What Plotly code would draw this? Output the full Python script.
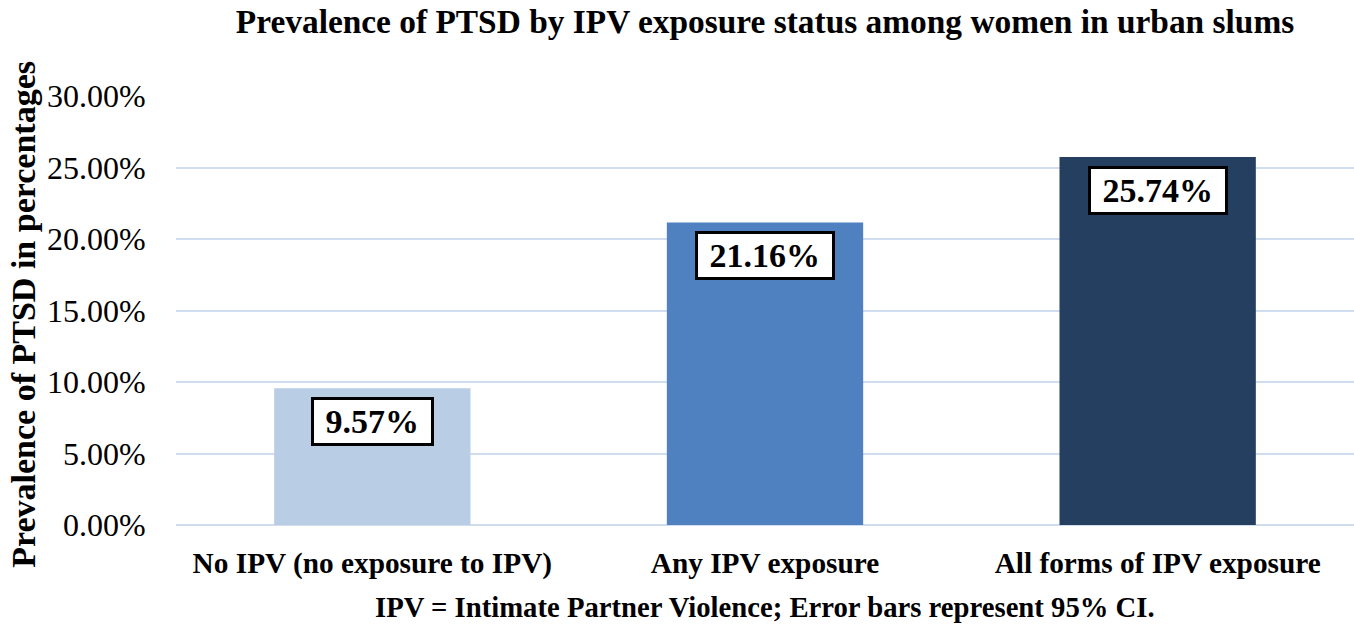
import plotly.graph_objects as go

categories = ["No IPV (no exposure to IPV)", "Any IPV exposure", "All forms of IPV exposure"]
prevalence = [0.0957, 0.2116, 0.2574]
bar_colors = ["#b9cde5", "#4f80c0", "#253f60"]
label_texts = ["9.57%", "21.16%", "25.74%"]
y_ticks = [0, 0.05, 0.10, 0.15, 0.20, 0.25, 0.30]

FONT = "Liberation Serif"
W, H = 1354, 625
ML, MR, MT, MB = 176, 0, 96, 100

fig = go.Figure()
fig.add_trace(go.Bar(
    x=categories, y=prevalence,
    marker=dict(color=bar_colors, line=dict(width=0)),
    width=0.5, hoverinfo="skip",
))

for c, v, t in zip(categories, prevalence, label_texts):
    fig.add_annotation(
        x=c, y=v, xref="x", yref="y", yanchor="top", yshift=-9,
        text="&nbsp;" + t + "&nbsp;", showarrow=False,
        font=dict(family=FONT, size=34, color="black", weight="bold"),
        bgcolor="white", bordercolor="black", borderwidth=3, borderpad=3,
    )

plot_w = W - ML - MR
fig.add_annotation(
    xref="paper", yref="paper", x=(24 - ML) / plot_w, y=0.49,
    xanchor="center", yanchor="middle", textangle=-90,
    text="Prevalence of PTSD in percentages", showarrow=False,
    font=dict(family=FONT, size=34, color="black", weight="bold"),
)
plot_h = H - MT - MB
fig.add_annotation(
    xref="paper", yref="paper", x=0.5, y=-(607 - (H - MB)) / plot_h,
    xanchor="center", yanchor="middle",
    text="IPV = Intimate Partner Violence; Error bars represent 95% CI.", showarrow=False,
    font=dict(family=FONT, size=28.7, color="black", weight="bold"),
)

fig.update_layout(
    width=W, height=H,
    margin=dict(l=ML, r=MR, t=MT, b=MB),
    paper_bgcolor="white", plot_bgcolor="white",
    showlegend=False,
    title=dict(
        text="<b>Prevalence of PTSD by IPV exposure status among women in urban slums</b>",
        xref="paper", x=0.5, xanchor="center",
        yref="container", y=1 - 21 / H, yanchor="middle",
        font=dict(family=FONT, size=33.4, color="black"),
    ),
    bargap=0.5,
)
fig.update_xaxes(
    showgrid=False, showline=False, zeroline=False,
    tickfont=dict(family=FONT, size=29.3, color="black", weight="bold"),
    ticks="outside", ticklen=0, tickcolor="white", ticklabelstandoff=12,
)
fig.update_yaxes(
    range=[0, 0.30], tickvals=y_ticks, tickformat=".2%",
    showgrid=True, gridcolor="#d0ddef", gridwidth=2,
    zeroline=True, zerolinecolor="#d0ddef", zerolinewidth=2,
    showline=False,
    tickfont=dict(family=FONT, size=32, color="black"),
    ticks="outside", ticklen=0, tickcolor="white", ticklabelstandoff=23,
)

fig.write_html("out.html")
